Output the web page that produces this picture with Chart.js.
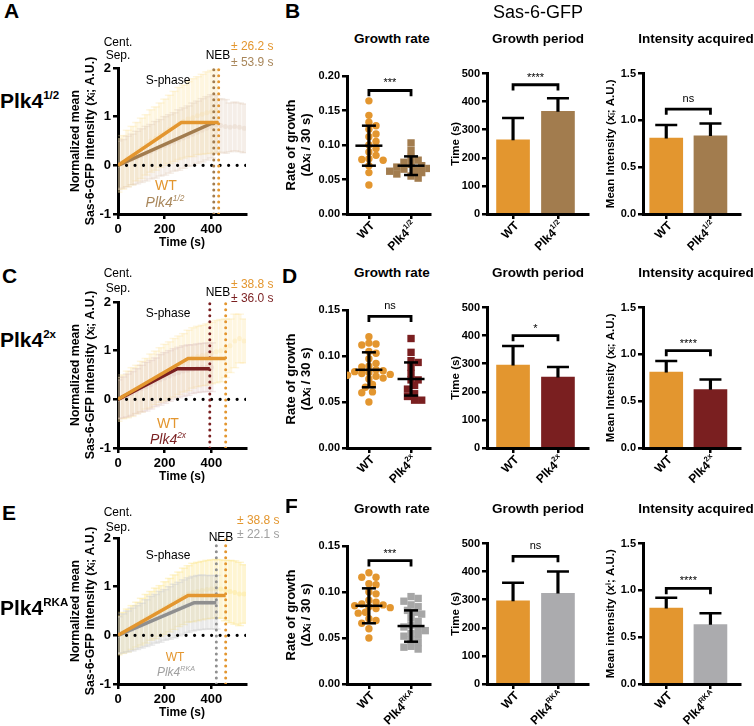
<!DOCTYPE html>
<html><head><meta charset="utf-8">
<script src="https://cdn.jsdelivr.net/npm/chart.js@4.4.1/dist/chart.umd.min.js"></script>
<style>
html,body{margin:0;padding:0;background:#fff}
body{width:754px;height:726px;position:relative;overflow:hidden;font-family:"Liberation Sans",Arial,sans-serif;color:#000}
canvas{position:absolute}
.t{position:absolute;white-space:nowrap;line-height:1}
sup{font-size:0.6em;line-height:0;vertical-align:0.7em}
.rl sup{font-size:0.55em;vertical-align:0.75em}
</style></head><body>
<script>
// ================= DATA =================
// Time-course panels (A, C, E): fitted mean lines
const timeTicks = [0, 200, 400];
const normTicks = [-1, 0, 1, 2];

const fitT_WT_A = [0, 271, 431], fitY_WT_A = [0, 0.88, 0.88];
const fitT_Mut_A = [0, 400, 410], fitY_Mut_A = [0, 0.86, 0.86];
const neb_A = [431, 410];
const nebSd_A = ['± 26.2 s', '± 53.9 s'];

const fitT_WT_C = [0, 300, 461], fitY_WT_C = [0, 0.84, 0.84];
const fitT_Mut_C = [0, 254, 393], fitY_Mut_C = [0, 0.63, 0.63];
const neb_C = [461, 393];
const nebSd_C = ['± 38.8 s', '± 36.0 s'];

const fitT_WT_E = [0, 300, 461], fitY_WT_E = [0, 0.82, 0.82];
const fitT_Mut_E = [0, 326, 421], fitY_Mut_E = [0, 0.67, 0.67];
const neb_E = [461, 421];
const nebSd_E = ['± 38.8 s', '± 22.1 s'];

// faint individual time points (mean ± SD) behind the fits
const bgT_WT_A = [0,20,40,60,80,100,120,140,160,180,200,220,240,260,280,300,320,340,360,380,400,420];
const bgM_WT_A = [0.00,0.06,0.14,0.20,0.28,0.35,0.42,0.50,0.55,0.62,0.68,0.74,0.80,0.86,0.90,0.95,0.98,1.02,1.05,1.08,1.10,1.12];
const bgS_WT_A = [0.55,0.55,0.58,0.60,0.60,0.62,0.62,0.64,0.65,0.66,0.68,0.70,0.72,0.74,0.75,0.77,0.80,0.80,0.82,0.84,0.85,0.85];
const bgT_Mut_A = [0,20,40,60,80,100,120,140,160,180,200,220,240,260,280,300,320,340,360,380,400,420,440,460,480,500,520,540];
const bgM_Mut_A = [0.00,0.03,0.08,0.12,0.16,0.20,0.24,0.28,0.32,0.36,0.40,0.44,0.48,0.52,0.56,0.60,0.64,0.68,0.72,0.76,0.80,0.84,0.82,0.80,0.78,0.80,0.78,0.76];
const bgS_Mut_A = [0.50,0.50,0.52,0.52,0.54,0.55,0.56,0.56,0.58,0.58,0.60,0.60,0.60,0.62,0.62,0.62,0.64,0.64,0.65,0.65,0.65,0.60,0.55,0.55,0.50,0.50,0.50,0.50];

const bgT_WT_C = [0,20,40,60,80,100,120,140,160,180,200,220,240,260,280,300,320,340,360,380,400,420,440,460,480,500,520,540];
const bgM_WT_C = [0.00,0.05,0.10,0.15,0.20,0.26,0.32,0.38,0.44,0.50,0.55,0.60,0.65,0.70,0.75,0.80,0.85,0.88,0.90,0.92,0.95,0.98,1.00,1.05,1.10,1.20,1.25,1.20];
const bgS_WT_C = [0.45,0.45,0.48,0.50,0.50,0.52,0.52,0.55,0.55,0.56,0.58,0.58,0.60,0.60,0.60,0.62,0.62,0.62,0.62,0.63,0.63,0.64,0.64,0.60,0.55,0.55,0.50,0.45];
const bgT_Mut_C = [0,20,40,60,80,100,120,140,160,180,200,220,240,260,280,300,320,340,360,380,400];
const bgM_Mut_C = [0.00,0.04,0.08,0.12,0.17,0.22,0.26,0.30,0.35,0.40,0.44,0.48,0.52,0.55,0.58,0.60,0.62,0.64,0.65,0.66,0.66];
const bgS_Mut_C = [0.40,0.42,0.44,0.45,0.46,0.48,0.50,0.50,0.50,0.52,0.52,0.52,0.52,0.52,0.52,0.52,0.50,0.50,0.50,0.50,0.50];

const bgT_WT_E = [0,20,40,60,80,100,120,140,160,180,200,220,240,260,280,300,320,340,360,380,400,420,440,460,480,500,520,540];
const bgM_WT_E = [0.00,0.05,0.10,0.16,0.22,0.28,0.34,0.40,0.45,0.50,0.56,0.62,0.68,0.74,0.80,0.85,0.88,0.90,0.92,0.94,0.95,0.96,0.95,0.92,0.90,0.88,0.85,0.85];
const bgS_WT_E = [0.40,0.42,0.44,0.45,0.46,0.48,0.50,0.50,0.52,0.52,0.54,0.55,0.56,0.56,0.58,0.58,0.60,0.60,0.60,0.60,0.60,0.60,0.60,0.62,0.64,0.65,0.65,0.60];
const bgT_Mut_E = [0,20,40,60,80,100,120,140,160,180,200,220,240,260,280,300,320,340,360,380,400,420];
const bgM_Mut_E = [0.00,0.04,0.08,0.12,0.16,0.20,0.25,0.30,0.34,0.38,0.42,0.46,0.50,0.54,0.58,0.62,0.65,0.67,0.68,0.68,0.68,0.68];
const bgS_Mut_E = [0.38,0.40,0.42,0.44,0.45,0.46,0.48,0.50,0.50,0.52,0.52,0.54,0.55,0.55,0.56,0.56,0.56,0.56,0.56,0.55,0.55,0.55];

// Growth rate dot plots (B, D, F)
const rateWT_B = [0.164,0.143,0.133,0.128,0.123,0.116,0.112,0.105,0.100,0.095,0.090,0.085,0.080,0.079,0.078,0.070,0.060,0.042];
const rateMut_B = [0.103,0.092,0.082,0.078,0.075,0.072,0.070,0.068,0.066,0.065,0.063,0.062,0.060,0.058,0.055,0.052];
const rateMean_B = [0.099, 0.070], rateSd_B = [0.029, 0.0135];
const rateTicks_B = [0, 0.05, 0.10, 0.15, 0.20];
const rateSig_B = {y: 0.179, text: '***'};

const rateWT_D = [0.121,0.114,0.113,0.112,0.105,0.103,0.097,0.092,0.089,0.088,0.085,0.084,0.083,0.082,0.081,0.080,0.079,0.078,0.076,0.075,0.069,0.066,0.061,0.060,0.050];
const rateMut_D = [0.119,0.104,0.095,0.093,0.088,0.081,0.074,0.074,0.068,0.064,0.059,0.056,0.052,0.052];
const rateMean_D = [0.085, 0.075], rateSd_D = [0.019, 0.018];
const rateTicks_D = [0, 0.05, 0.10, 0.15];
const rateSig_D = {y: 0.143, text: 'ns'};

const rateWT_F = [0.121,0.116,0.116,0.109,0.108,0.100,0.098,0.091,0.089,0.087,0.086,0.085,0.084,0.083,0.082,0.078,0.077,0.071,0.069,0.066,0.060,0.050];
const rateMut_F = [0.095,0.093,0.090,0.086,0.084,0.080,0.078,0.076,0.072,0.068,0.064,0.062,0.060,0.058,0.055,0.053,0.052,0.048,0.045,0.041,0.040,0.038];
const rateMean_F = [0.085, 0.063], rateSd_F = [0.019, 0.017];
const rateTicks_F = [0, 0.05, 0.10, 0.15];
const rateSig_F = {y: 0.134, text: '***'};

// Growth period bars (s)
const periodTicks = [0, 100, 200, 300, 400, 500];
const periodMean_B = [264, 365], periodSd_B = [78, 47], periodSig_B = {y: 460, text: '****'};
const periodMean_D = [295, 252], periodSd_D = [68, 36], periodSig_D = {y: 400, text: '*'};
const periodMean_F = [296, 323], periodSd_F = [64, 77], periodSig_F = {y: 454, text: 'ns'};

// Intensity acquired bars (A.U.)
const intTicks = [0, 0.5, 1.0, 1.5];
const intMean_B = [0.81, 0.835], intSd_B = [0.14, 0.13], intSig_B = {y: 1.12, text: 'ns'};
const intMean_D = [0.81, 0.625], intSd_D = [0.12, 0.105], intSig_D = {y: 1.04, text: '****'};
const intMean_F = [0.81, 0.635], intSd_F = [0.11, 0.12], intSig_F = {y: 1.02, text: '****'};

// category labels
const catWT = {base: 'WT', sup: ''};
const catMut_B = {base: 'Plk4', sup: '1/2'};
const catMut_D = {base: 'Plk4', sup: '2x'};
const catMut_F = {base: 'Plk4', sup: 'RKA'};

// ================= STYLE / LAYOUT =================
const FONT = '"Liberation Sans", Arial, Helvetica, sans-serif';
const C_WT = '#E3962F';
Chart.defaults.font.family = FONT;
Chart.defaults.color = '#000';
Chart.defaults.animation = false;
Chart.defaults.responsive = false;
Chart.defaults.events = [];
Chart.defaults.plugins.legend.display = false;
Chart.defaults.plugins.tooltip.enabled = false;

const PH = 146; // plot height
const rows = [
  {dy: 0, top: 68, fitWT: [fitT_WT_A, fitY_WT_A], fitMut: [fitT_Mut_A, fitY_Mut_A], neb: neb_A, nebSd: nebSd_A,
   bgWT: [bgT_WT_A, bgM_WT_A, bgS_WT_A], bgMut: [bgT_Mut_A, bgM_Mut_A, bgS_Mut_A],
   rateWT: rateWT_B, rateMut: rateMut_B, rateMean: rateMean_B, rateSd: rateSd_B, rateTicks: rateTicks_B, rateSig: rateSig_B,
   pMean: periodMean_B, pSd: periodSd_B, pSig: periodSig_B, iMean: intMean_B, iSd: intSd_B, iSig: intSig_B,
   cat: catMut_B, mutLine: '#A27C4E', mutBar: '#A27C4E', mutPt: '#A27C4E', mutText: '#A8865A',
   bgColWT: 'rgba(252,228,160,0.32)', bgColMut: 'rgba(222,198,180,0.30)', intTitle: 'Mean Intensity (xᵢ; A.U.)',
   letters: [['A', 4, 10], ['B', 285, 10]], rowLabel: ['1/2', 100],
   cent: [42, 55], nebTxt: [218, 55], sdTxt: [231, 46, 62], sphase: 80, leg: [166, 185, 165, 202, 14]},
  {dy: 234, top: 302, fitWT: [fitT_WT_C, fitY_WT_C], fitMut: [fitT_Mut_C, fitY_Mut_C], neb: neb_C, nebSd: nebSd_C,
   bgWT: [bgT_WT_C, bgM_WT_C, bgS_WT_C], bgMut: [bgT_Mut_C, bgM_Mut_C, bgS_Mut_C],
   rateWT: rateWT_D, rateMut: rateMut_D, rateMean: rateMean_D, rateSd: rateSd_D, rateTicks: rateTicks_D, rateSig: rateSig_D,
   pMean: periodMean_D, pSd: periodSd_D, pSig: periodSig_D, iMean: intMean_D, iSd: intSd_D, iSig: intSig_D,
   cat: catMut_D, mutLine: '#7A1F20', mutBar: '#7A1F20', mutPt: '#7A1F20', mutText: '#7A1F20',
   bgColWT: 'rgba(252,228,160,0.32)', bgColMut: 'rgba(218,190,186,0.30)', intTitle: 'Mean Intensity (xᵢ; A.U.)',
   letters: [['C', 2, 275], ['D', 282, 275]], rowLabel: ['2x', 339],
   cent: [273, 288], nebTxt: [218, 292], sdTxt: [231, 284, 298], sphase: 313, leg: [168, 423, 168, 439, 14]},
  {dy: 470, top: 538, fitWT: [fitT_WT_E, fitY_WT_E], fitMut: [fitT_Mut_E, fitY_Mut_E], neb: neb_E, nebSd: nebSd_E,
   bgWT: [bgT_WT_E, bgM_WT_E, bgS_WT_E], bgMut: [bgT_Mut_E, bgM_Mut_E, bgS_Mut_E],
   rateWT: rateWT_F, rateMut: rateMut_F, rateMean: rateMean_F, rateSd: rateSd_F, rateTicks: rateTicks_F, rateSig: rateSig_F,
   pMean: periodMean_F, pSd: periodSd_F, pSig: periodSig_F, iMean: intMean_F, iSd: intSd_F, iSig: intSig_F,
   cat: catMut_F, mutLine: '#8F8F8F', mutBar: '#ABABAE', mutPt: '#A6A6A6', mutText: '#A0A0A0',
   bgColWT: 'rgba(252,226,130,0.36)', bgColMut: 'rgba(208,208,208,0.45)', intTitle: 'Mean intensity (xⁱ; A.U.)',
   letters: [['E', 2, 512], ['F', 285, 505]], rowLabel: ['RKA', 607],
   cent: [512, 527], nebTxt: [221, 537], sdTxt: [237, 520, 534], sphase: 555, leg: [175, 657, 176, 672, 12]}
];

// ================= HELPERS =================
function makeCanvas(left, top, w, h) {
  const c = document.createElement('canvas');
  c.width = w; c.height = h;
  c.style.left = left + 'px'; c.style.top = top + 'px';
  c.style.width = w + 'px'; c.style.height = h + 'px';
  document.body.appendChild(c);
  return c;
}
function addText(html, x, y, css, align, cls) {
  const d = document.createElement('div');
  d.className = 't' + (cls ? ' ' + cls : '');
  d.innerHTML = html;
  d.style.cssText = `left:${x}px;top:${y}px;` + (css || '');
  const tx = align === 'center' ? '-50%' : (align === 'right' ? '-100%' : '0');
  d.style.transform = `translate(${tx},-50%)`;
  document.body.appendChild(d);
}
const gridStyle = {display: true, drawOnChartArea: false, drawTicks: true, tickLength: 5, tickWidth: 2.5, tickColor: '#000', color: '#000', lineWidth: 2.5, offset: false};
const borderStyle = {display: true, color: '#000', width: 3};
function yAx(min, max, ticks, width, title, titleSize, tickSize, fmt) {
  return {
    type: 'linear', min, max, offset: false,
    afterBuildTicks: s => { s.ticks = ticks.map(v => ({value: v})); },
    afterFit: s => { s.width = width; },
    ticks: {font: {size: tickSize, weight: 'bold'}, color: '#000', padding: 2, callback: fmt},
    grid: gridStyle, border: borderStyle,
    title: {display: true, text: title, color: '#000', font: {size: titleSize, weight: 'bold', lineHeight: 1.15}, padding: {top: 4, bottom: 4}}
  };
}
function xAx(min, max, ticks, height, showLabels, title) {
  return {
    type: 'linear', min, max, offset: false,
    afterBuildTicks: s => { s.ticks = ticks.map(v => ({value: v})); },
    afterFit: s => { s.height = height; },
    ticks: {display: showLabels, font: {size: 13, weight: 'bold'}, color: '#000', padding: 3, minRotation: 0, maxRotation: 0, autoSkip: false},
    grid: gridStyle, border: borderStyle,
    title: title ? {display: true, text: title, color: '#000', font: {size: 12, weight: 'bold', lineHeight: 1.15}, padding: {top: 2, bottom: 4}} : {display: false}
  };
}
// annotation plugin: rotated category labels with superscripts, significance marks
const annot = {
  id: 'annot',
  afterDraw(chart) {
    const o = chart.options.plugins.annot;
    if (!o) return;
    const ctx = chart.ctx, xs = chart.scales.x, ys = chart.scales.y;
    ctx.save();
    ctx.fillStyle = '#000';
    if (o.labels) {
      o.labels.forEach((lab, i) => {
        const px = xs.getPixelForValue(i), py = chart.chartArea.bottom;
        ctx.save();
        ctx.translate(px + 4, py + 10);
        ctx.rotate(-Math.PI / 4);
        ctx.textBaseline = 'middle';
        ctx.textAlign = 'left';
        const fb = `bold 12px ${FONT}`, fs = `bold 7.5px ${FONT}`;
        ctx.font = fs; const ws = lab.sup ? ctx.measureText(lab.sup).width : 0;
        ctx.font = fb; const wb = ctx.measureText(lab.base).width;
        ctx.fillText(lab.base, -(wb + ws), 0);
        if (lab.sup) { ctx.font = fs; ctx.fillText(lab.sup, -ws, -4.5); }
        ctx.restore();
      });
    }
    if (o.sig) {
      const px = (xs.getPixelForValue(0) + xs.getPixelForValue(1)) / 2;
      const py = ys.getPixelForValue(o.sig.y);
      ctx.font = `11px ${FONT}`;
      ctx.textAlign = 'center';
      ctx.textBaseline = 'alphabetic';
      ctx.fillText(o.sig.text, px, py - (o.sig.text === 'ns' ? 7 : 4));
    }
    ctx.restore();
  }
};
Chart.register(annot);

function errSeries(ds, T, M, S, col, order, capR, w) {
  ds.push({type: 'bar', data: T.map((t, i) => ({x: t, y: [M[i] - S[i], M[i] + S[i]]})), backgroundColor: col, barThickness: w, grouped: false, order});
  ds.push({type: 'scatter', data: T.flatMap((t, i) => [{x: t, y: M[i] - S[i]}, {x: t, y: M[i] + S[i]}]), pointStyle: 'line', pointRadius: capR, pointBorderColor: col, pointBorderWidth: 1.5, order});
  ds.push({type: 'scatter', data: T.map((t, i) => ({x: t, y: M[i]})), pointStyle: 'circle', pointRadius: 2.5, pointBackgroundColor: col, pointBorderWidth: 0, order});
}
function zip(pair) { return pair[0].map((x, i) => ({x, y: pair[1][i]})); }

function swarm(vals, pxPerY, dia) {
  const placed = [], out = new Array(vals.length);
  const idx = vals.map((v, i) => i).sort((a, b) => vals[b] - vals[a]);
  for (const i of idx) {
    const y = vals[i] * pxPerY;
    for (let k = 0; k < 60; k++) {
      const off = k === 0 ? 0 : (k % 2 ? 1 : -1) * Math.ceil(k / 2) * dia * 0.55;
      if (placed.every(p => Math.hypot(p.x - off, p.y - y) >= dia * 0.92)) { placed.push({x: off, y}); out[i] = off; break; }
    }
  }
  return out;
}
function bracket(ds, h, d) {
  ds.push({type: 'line', data: [{x: 0, y: h - d}, {x: 0, y: h}, {x: 1, y: h}, {x: 1, y: h - d}], borderColor: '#000', borderWidth: 2.8, pointRadius: 0, order: 0, borderJoinStyle: 'miter'});
}
function meanSd(ds, means, sds, lower, capR, meanR) {
  means.forEach((m, i) => {
    const lo = lower ? m - sds[i] : m;
    ds.push({type: 'bar', data: [{x: i, y: [lo, m + sds[i]]}], backgroundColor: '#000', barThickness: 2.5, grouped: false, order: 0});
  });
  const caps = [];
  means.forEach((m, i) => { caps.push({x: i, y: m + sds[i]}); if (lower) caps.push({x: i, y: m - sds[i]}); });
  ds.push({type: 'scatter', data: caps, pointStyle: 'line', pointRadius: capR, pointBorderColor: '#000', pointBorderWidth: 2.5, order: 0});
  if (meanR) ds.push({type: 'scatter', data: means.map((m, i) => ({x: i, y: m})), pointStyle: 'line', pointRadius: meanR, pointBorderColor: '#000', pointBorderWidth: 2.5, order: 0});
}

// ================= BUILD =================
const XMAX_T = 548;
const TOPPAD = 34;
rows.forEach(r => {
  const top = r.top;
  // ---- time course ----
  {
    const ds = [];
    ds.push({type: 'line', data: zip(r.fitWT), borderColor: C_WT, borderWidth: 3.5, pointRadius: 0, order: 0});
    ds.push({type: 'line', data: zip(r.fitMut), borderColor: r.mutLine, borderWidth: 3.5, pointRadius: 0, order: 0});
    r.neb.forEach((t, k) => ds.push({type: 'line', data: [{x: t, y: -1}, {x: t, y: 2}], borderColor: k ? r.mutLine : C_WT, borderWidth: 3, borderDash: [0.01, 6], borderCapStyle: 'round', pointRadius: 0, order: 1}));
    ds.push({type: 'line', data: [{x: 0, y: 0}, {x: XMAX_T, y: 0}], borderColor: '#000', borderWidth: 3.2, borderDash: [0.01, 8.5], borderCapStyle: 'round', pointRadius: 0, order: 1});
    errSeries(ds, r.bgMut[0], r.bgMut[1], r.bgMut[2], r.bgColMut, 5, 4.5, 3.4);
    errSeries(ds, r.bgWT[0], r.bgWT[1], r.bgWT[2], r.bgColWT, 6, 4.5, 3.4);
    new Chart(makeCanvas(65, top - TOPPAD, 187, TOPPAD + PH + 40), {
      type: 'scatter', data: {datasets: ds},
      options: {devicePixelRatio: 1, layout: {padding: {top: TOPPAD, right: 4, left: 0, bottom: 0}},
        scales: {x: xAx(0, XMAX_T, timeTicks, 40, true, 'Time (s)'),
                 y: yAx(-1, 2, normTicks, 53, ['Normalized mean', 'Sas-6-GFP intensity (xᵢ; A.U.)'], 12.3, 13, v => String(v))},
        plugins: {annot: null}}
    });
  }
  // ---- growth rate ----
  {
    const ymax = r.rateTicks[r.rateTicks.length - 1];
    const xmin = -0.52, xmax = 1.45, plotW = 95;
    const pxY = PH / ymax, pxX = plotW / (xmax - xmin);
    const offW = swarm(r.rateWT, pxY, 7.4), offM = swarm(r.rateMut, pxY, 7.4);
    const ds = [];
    meanSd(ds, r.rateMean, r.rateSd, true, 7, 13.5);
    bracket(ds, r.rateSig.y, 6 / pxY);
    ds.push({type: 'scatter', data: r.rateWT.map((v, i) => ({x: offW[i] / pxX, y: v})), pointStyle: 'circle', pointRadius: 3.7, pointBackgroundColor: C_WT, pointBorderWidth: 0, order: 2});
    ds.push({type: 'scatter', data: r.rateMut.map((v, i) => ({x: 1 + offM[i] / pxX, y: v})), pointStyle: 'rect', pointRadius: 5.2, pointBackgroundColor: r.mutPt, pointBorderWidth: 0, order: 2});
    new Chart(makeCanvas(280, top - 8, 67 + plotW + 4, 8 + PH + 46), {
      type: 'scatter', data: {datasets: ds},
      options: {devicePixelRatio: 1, layout: {padding: {top: 8, right: 4, left: 0, bottom: 0}},
        scales: {x: xAx(xmin, xmax, [0, 1], 46, false, null),
                 y: yAx(0, ymax, r.rateTicks, 67, ['Rate of growth', '(Δxᵢ / 30 s)'], 13, 11, v => v.toFixed(2))},
        plugins: {annot: {labels: [catWT, r.cat], sig: r.rateSig}}}
    });
  }
  // ---- bar charts ----
  function bars(left, yW, plotW, xmin, xmax, means, sds, sig, ymax, ticks, title, fmt) {
    const ds = [];
    meanSd(ds, means, sds, false, 11, 0);
    bracket(ds, sig.y, 6 * ymax / PH);
    ds.push({type: 'bar', data: means.map((m, i) => ({x: i, y: m})), backgroundColor: [C_WT, r.mutBar], barThickness: 33, grouped: false, order: 2});
    new Chart(makeCanvas(left, top - 8, yW + plotW + 4, 8 + PH + 46), {
      type: 'scatter', data: {datasets: ds},
      options: {devicePixelRatio: 1, layout: {padding: {top: 8, right: 4, left: 0, bottom: 0}},
        scales: {x: xAx(xmin, xmax, [0, 1], 46, false, null),
                 y: yAx(0, ymax, ticks, yW, title, 11.5, 11, fmt)},
        plugins: {annot: {labels: [catWT, r.cat], sig}}}
    });
  }
  bars(445, 42, 111, -0.58, 1.68, r.pMean, r.pSd, r.pSig, 500, periodTicks, 'Time (s)', v => String(v));
  bars(600, 43, 107, -0.526, 1.68, r.iMean, r.iSd, r.iSig, 1.5, intTicks, r.intTitle, v => v.toFixed(1));

  // ---- text ----
  r.letters.forEach(([L, x, y]) => addText(L, x, y, 'font-size:21px;font-weight:bold;', 'left'));
  addText('Plk4<sup>' + r.rowLabel[0] + '</sup>', 0, r.rowLabel[1], 'font-size:21px;font-weight:bold;', 'left', 'rl');
  addText('Growth rate', 392, 39 + r.dy, 'font-size:13.5px;font-weight:bold;', 'center');
  addText('Growth period', 538, 39 + r.dy, 'font-size:13.5px;font-weight:bold;', 'center');
  addText('Intensity acquired', 696, 39 + r.dy, 'font-size:13.5px;font-weight:bold;', 'center');
  addText('Cent.', 118, r.cent[0], 'font-size:12px;', 'center');
  addText('Sep.', 118, r.cent[1], 'font-size:12px;', 'center');
  addText('NEB', r.nebTxt[0], r.nebTxt[1], 'font-size:12px;', 'center');
  addText(r.nebSd[0], r.sdTxt[0], r.sdTxt[1], 'font-size:12px;color:' + C_WT + ';', 'left');
  addText(r.nebSd[1], r.sdTxt[0], r.sdTxt[2], 'font-size:12px;color:' + r.mutText + ';', 'left');
  addText('S-phase', 168, r.sphase, 'font-size:12px;', 'center');
  addText('WT', r.leg[0], r.leg[1], `font-size:${r.leg[4]}px;color:${C_WT};`, 'center');
  addText('<i>Plk4<sup>' + r.rowLabel[0] + '</sup></i>', r.leg[2], r.leg[3], `font-size:${r.leg[4]}px;color:${r.mutText};`, 'center');
});
addText('Sas-6-GFP', 538, 12, 'font-size:18px;', 'center');
</script>
</body></html>
